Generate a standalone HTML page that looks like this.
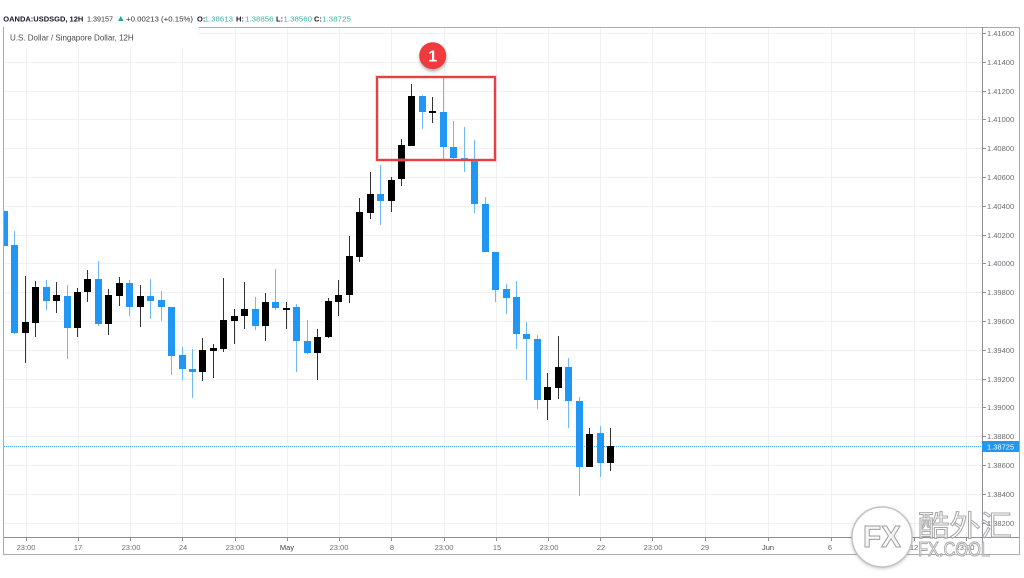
<!DOCTYPE html>
<html><head><meta charset="utf-8"><style>
html,body{margin:0;padding:0;background:#fff;overflow:hidden}
svg{display:block}
text{font-family:"Liberation Sans",sans-serif}
</style></head><body>
<svg width="1024" height="578" viewBox="0 0 1024 578" xmlns="http://www.w3.org/2000/svg">
<defs>
<clipPath id="plot"><rect x="4" y="27" width="978" height="510"/></clipPath>
<clipPath id="leg"><rect x="0" y="27" width="134" height="20"/></clipPath>
<filter id="sh" x="-50%" y="-50%" width="200%" height="200%"><feGaussianBlur stdDeviation="1.5"/></filter>
</defs>
<rect width="1024" height="578" fill="#fff"/>

<!-- horizontal grid -->
<g stroke="#eef0f3" stroke-width="1">
<line x1="4" x2="982" y1="33.5" y2="33.5"/><line x1="4" x2="982" y1="62.5" y2="62.5"/><line x1="4" x2="982" y1="91.5" y2="91.5"/><line x1="4" x2="982" y1="119.5" y2="119.5"/><line x1="4" x2="982" y1="148.5" y2="148.5"/><line x1="4" x2="982" y1="177.5" y2="177.5"/><line x1="4" x2="982" y1="206.5" y2="206.5"/><line x1="4" x2="982" y1="235.5" y2="235.5"/><line x1="4" x2="982" y1="263.5" y2="263.5"/><line x1="4" x2="982" y1="292.5" y2="292.5"/><line x1="4" x2="982" y1="321.5" y2="321.5"/><line x1="4" x2="982" y1="350.5" y2="350.5"/><line x1="4" x2="982" y1="379.5" y2="379.5"/><line x1="4" x2="982" y1="407.5" y2="407.5"/><line x1="4" x2="982" y1="436.5" y2="436.5"/><line x1="4" x2="982" y1="465.5" y2="465.5"/><line x1="4" x2="982" y1="494.5" y2="494.5"/><line x1="4" x2="982" y1="523.5" y2="523.5"/>
</g>
<!-- vertical grid -->
<g stroke="#eef0f3" stroke-width="1">
<line x1="26.5" x2="26.5" y1="27" y2="537"/><line x1="78.5" x2="78.5" y1="27" y2="537"/><line x1="130.5" x2="130.5" y1="27" y2="537"/><line x1="182.5" x2="182.5" y1="27" y2="537"/><line x1="235.5" x2="235.5" y1="27" y2="537"/><line x1="287.5" x2="287.5" y1="27" y2="537"/><line x1="339.5" x2="339.5" y1="27" y2="537"/><line x1="391.5" x2="391.5" y1="27" y2="537"/><line x1="444.5" x2="444.5" y1="27" y2="537"/><line x1="496.5" x2="496.5" y1="27" y2="537"/><line x1="548.5" x2="548.5" y1="27" y2="537"/><line x1="600.5" x2="600.5" y1="27" y2="537"/><line x1="652.5" x2="652.5" y1="27" y2="537"/><line x1="705.5" x2="705.5" y1="27" y2="537"/><line x1="768.5" x2="768.5" y1="27" y2="537"/><line x1="831.5" x2="831.5" y1="27" y2="537"/><line x1="914.5" x2="914.5" y1="27" y2="537"/><line x1="966.5" x2="966.5" y1="27" y2="537"/>
</g>

<!-- legend box -->
<rect x="4.5" y="20" width="194.5" height="28" fill="#fff"/>
<text x="10" y="40.5" font-size="8" fill="#4a4a4a" clip-path="url(#leg)">U.S. Dollar / Singapore Dollar, 12H</text>

<!-- price line -->
<line x1="4" x2="982" y1="446.5" y2="446.5" stroke="#2196f3" stroke-width="1" stroke-dasharray="1 1" opacity="0.8"/>

<!-- candles -->
<g clip-path="url(#plot)">
<g fill="#6fb9f6">
<rect x="14" y="231" width="1" height="103"/><rect x="46" y="280" width="1" height="30"/><rect x="67" y="285" width="1" height="74"/><rect x="98" y="261" width="1" height="65"/><rect x="129" y="280" width="1" height="36"/><rect x="150" y="279" width="1" height="40"/><rect x="161" y="291" width="1" height="30"/><rect x="171" y="307" width="1" height="68"/><rect x="182" y="347" width="1" height="33"/><rect x="192" y="349" width="1" height="49"/><rect x="255" y="297" width="1" height="33"/><rect x="275" y="269" width="1" height="41"/><rect x="296" y="304" width="1" height="68"/><rect x="307" y="320" width="1" height="34"/><rect x="380" y="165" width="1" height="60"/><rect x="422" y="95" width="1" height="34"/><rect x="443" y="78" width="1" height="81"/><rect x="453" y="121" width="1" height="38"/><rect x="464" y="127" width="1" height="45"/><rect x="474" y="140" width="1" height="73"/><rect x="485" y="197" width="1" height="55"/><rect x="495" y="252" width="1" height="50"/><rect x="506" y="284" width="1" height="30"/><rect x="516" y="281" width="1" height="68"/><rect x="526" y="322" width="1" height="58"/><rect x="537" y="335" width="1" height="74"/><rect x="568" y="358" width="1" height="70"/><rect x="579" y="397" width="1" height="99"/><rect x="600" y="426" width="1" height="51"/>
</g>
<g fill="#333">
<rect x="25" y="276" width="1" height="87"/><rect x="35" y="281" width="1" height="56"/><rect x="56" y="282" width="1" height="31"/><rect x="77" y="288" width="1" height="49"/><rect x="87" y="270" width="1" height="32"/><rect x="108" y="289" width="1" height="46"/><rect x="119" y="277" width="1" height="29"/><rect x="140" y="285" width="1" height="42"/><rect x="202" y="338" width="1" height="43"/><rect x="213" y="344" width="1" height="34"/><rect x="223" y="278" width="1" height="74"/><rect x="234" y="309" width="1" height="35"/><rect x="244" y="282" width="1" height="47"/><rect x="265" y="293" width="1" height="48"/><rect x="286" y="302" width="1" height="27"/><rect x="317" y="329" width="1" height="51"/><rect x="328" y="298" width="1" height="40"/><rect x="338" y="280" width="1" height="36"/><rect x="349" y="236" width="1" height="67"/><rect x="359" y="198" width="1" height="64"/><rect x="370" y="172" width="1" height="47"/><rect x="391" y="177" width="1" height="35"/><rect x="401" y="139" width="1" height="47"/><rect x="411" y="84" width="1" height="62"/><rect x="432" y="97" width="1" height="26"/><rect x="547" y="373" width="1" height="47"/><rect x="558" y="336" width="1" height="63"/><rect x="589" y="428" width="1" height="39"/><rect x="610" y="428" width="1" height="43"/>
</g>
<g fill="#2196f3">
<rect x="4" y="211" width="4" height="35"/><rect x="11" y="245" width="7" height="88"/><rect x="43" y="287" width="7" height="14"/><rect x="64" y="296" width="7" height="32"/><rect x="95" y="279" width="7" height="45"/><rect x="126" y="283" width="7" height="24"/><rect x="147" y="296" width="7" height="5"/><rect x="158" y="300" width="7" height="7"/><rect x="168" y="307" width="7" height="49"/><rect x="179" y="355" width="7" height="14"/><rect x="189" y="369" width="7" height="3"/><rect x="252" y="309" width="7" height="17"/><rect x="272" y="302" width="7" height="6"/><rect x="293" y="307" width="7" height="34"/><rect x="304" y="341" width="7" height="12"/><rect x="377" y="194" width="7" height="7"/><rect x="419" y="96" width="7" height="16"/><rect x="440" y="112" width="7" height="35"/><rect x="450" y="147" width="7" height="11"/><rect x="461" y="158" width="7" height="2"/><rect x="471" y="160" width="7" height="44"/><rect x="482" y="204" width="7" height="48"/><rect x="492" y="252" width="7" height="38"/><rect x="503" y="289" width="7" height="9"/><rect x="513" y="297" width="7" height="37"/><rect x="523" y="334" width="7" height="5"/><rect x="534" y="339" width="7" height="61"/><rect x="565" y="367" width="7" height="34"/><rect x="576" y="401" width="7" height="66"/><rect x="597" y="433" width="7" height="30"/>
</g>
<g fill="#000">
<rect x="22" y="322" width="7" height="11"/><rect x="32" y="287" width="7" height="36"/><rect x="53" y="295" width="7" height="6"/><rect x="74" y="292" width="7" height="36"/><rect x="84" y="279" width="7" height="13"/><rect x="105" y="295" width="7" height="29"/><rect x="116" y="283" width="7" height="13"/><rect x="137" y="296" width="7" height="11"/><rect x="199" y="350" width="7" height="22"/><rect x="210" y="348" width="7" height="3"/><rect x="220" y="320" width="7" height="29"/><rect x="231" y="316" width="7" height="5"/><rect x="241" y="309" width="7" height="7"/><rect x="262" y="302" width="7" height="24"/><rect x="283" y="308" width="7" height="2"/><rect x="314" y="337" width="7" height="16"/><rect x="325" y="301" width="7" height="36"/><rect x="335" y="295" width="7" height="7"/><rect x="346" y="256" width="7" height="39"/><rect x="356" y="212" width="7" height="45"/><rect x="367" y="194" width="7" height="19"/><rect x="388" y="180" width="7" height="21"/><rect x="398" y="145" width="7" height="34"/><rect x="408" y="96" width="7" height="50"/><rect x="429" y="111" width="7" height="2"/><rect x="544" y="387" width="7" height="13"/><rect x="555" y="367" width="7" height="21"/><rect x="586" y="434" width="7" height="33"/><rect x="607" y="446" width="7" height="17"/>
</g>
</g>

<!-- annotation -->
<rect x="377" y="77" width="118" height="83" fill="none" stroke="#f28b8b" stroke-width="4" opacity="0.35"/>
<rect x="377" y="77" width="118" height="83" fill="none" stroke="#e8403f" stroke-width="2"/>
<circle cx="433" cy="58" r="13.5" fill="#000" opacity="0.3" filter="url(#sh)"/>
<circle cx="432.7" cy="55.7" r="13.5" fill="#f03a3d"/>
<text x="432.7" y="61.5" font-size="16" font-weight="bold" fill="#fff" text-anchor="middle">1</text>

<!-- frame -->
<g stroke="#a9abb0" stroke-width="1" fill="none">
<line x1="199" x2="1019.5" y1="27.5" y2="27.5"/>
<line x1="3.5" x2="3.5" y1="27" y2="555"/>
<line x1="1019.5" x2="1019.5" y1="27" y2="555"/>
<line x1="3" x2="1020" y1="554.5" y2="554.5"/>
</g>
<g stroke="#8d8f94" stroke-width="1">
<line x1="982.5" x2="982.5" y1="27" y2="555"/>
<line x1="4" x2="1019" y1="537.5" y2="537.5"/>
</g>

<!-- y axis ticks & labels -->
<g stroke="#8d8f94" stroke-width="1">
<line x1="982" x2="986" y1="33.5" y2="33.5"/><line x1="982" x2="986" y1="62.5" y2="62.5"/><line x1="982" x2="986" y1="91.5" y2="91.5"/><line x1="982" x2="986" y1="119.5" y2="119.5"/><line x1="982" x2="986" y1="148.5" y2="148.5"/><line x1="982" x2="986" y1="177.5" y2="177.5"/><line x1="982" x2="986" y1="206.5" y2="206.5"/><line x1="982" x2="986" y1="235.5" y2="235.5"/><line x1="982" x2="986" y1="263.5" y2="263.5"/><line x1="982" x2="986" y1="292.5" y2="292.5"/><line x1="982" x2="986" y1="321.5" y2="321.5"/><line x1="982" x2="986" y1="350.5" y2="350.5"/><line x1="982" x2="986" y1="379.5" y2="379.5"/><line x1="982" x2="986" y1="407.5" y2="407.5"/><line x1="982" x2="986" y1="436.5" y2="436.5"/><line x1="982" x2="986" y1="465.5" y2="465.5"/><line x1="982" x2="986" y1="494.5" y2="494.5"/><line x1="982" x2="986" y1="523.5" y2="523.5"/>
</g>
<g font-size="7.5" fill="#6b6d72">
<text x="987" y="36.2">1.41600</text><text x="987" y="65.2">1.41400</text><text x="987" y="94.2">1.41200</text><text x="987" y="122.2">1.41000</text><text x="987" y="151.2">1.40800</text><text x="987" y="180.2">1.40600</text><text x="987" y="209.2">1.40400</text><text x="987" y="238.2">1.40200</text><text x="987" y="266.2">1.40000</text><text x="987" y="295.2">1.39800</text><text x="987" y="324.2">1.39600</text><text x="987" y="353.2">1.39400</text><text x="987" y="382.2">1.39200</text><text x="987" y="410.2">1.39000</text><text x="987" y="439.2">1.38800</text><text x="987" y="468.2">1.38600</text><text x="987" y="497.2">1.38400</text><text x="987" y="526.2">1.38200</text>
</g>
<rect x="982" y="441" width="37" height="11" fill="#2196f3"/>
<text x="987" y="449.3" font-size="7.5" fill="#fff">1.38725</text>

<!-- x axis ticks & labels -->
<g stroke="#8d8f94" stroke-width="1">
<line x1="26.5" x2="26.5" y1="537" y2="541"/><line x1="78.5" x2="78.5" y1="537" y2="541"/><line x1="130.5" x2="130.5" y1="537" y2="541"/><line x1="182.5" x2="182.5" y1="537" y2="541"/><line x1="235.5" x2="235.5" y1="537" y2="541"/><line x1="287.5" x2="287.5" y1="537" y2="541"/><line x1="339.5" x2="339.5" y1="537" y2="541"/><line x1="391.5" x2="391.5" y1="537" y2="541"/><line x1="444.5" x2="444.5" y1="537" y2="541"/><line x1="496.5" x2="496.5" y1="537" y2="541"/><line x1="548.5" x2="548.5" y1="537" y2="541"/><line x1="600.5" x2="600.5" y1="537" y2="541"/><line x1="652.5" x2="652.5" y1="537" y2="541"/><line x1="705.5" x2="705.5" y1="537" y2="541"/><line x1="768.5" x2="768.5" y1="537" y2="541"/><line x1="831.5" x2="831.5" y1="537" y2="541"/><line x1="914.5" x2="914.5" y1="537" y2="541"/><line x1="966.5" x2="966.5" y1="537" y2="541"/>
</g>
<g font-size="7.5" fill="#6b6d72" text-anchor="middle">
<text x="26" y="550">23:00</text><text x="78" y="550">17</text><text x="131" y="550">23:00</text><text x="183" y="550">24</text><text x="235" y="550">23:00</text><text x="287" y="550" fill="#444">May</text><text x="339" y="550">23:00</text><text x="392" y="550">8</text><text x="444" y="550">23:00</text><text x="497" y="550">15</text><text x="549" y="550">23:00</text><text x="601" y="550">22</text><text x="653" y="550">23:00</text><text x="705" y="550">29</text><text x="768" y="550" fill="#444">Jun</text><text x="830" y="550">6</text><text x="914" y="550">12</text><text x="965" y="550">23:00</text>
</g>

<!-- header -->
<text x="3.3" y="21.3" font-size="7.5" font-weight="bold" fill="#131722" textLength="80" lengthAdjust="spacingAndGlyphs">OANDA:USDSGD, 12H</text>
<text x="87" y="21.3" font-size="7.5" fill="#333" textLength="26" lengthAdjust="spacingAndGlyphs">1.39157</text>
<polygon points="118,21 123.6,21 120.8,16" fill="#26a69a"/>
<text x="126" y="21.3" font-size="7.5" fill="#333" textLength="67" lengthAdjust="spacingAndGlyphs">+0.00213 (+0.15%)</text>
<g font-size="7.5">
<text x="197" y="21.3" font-weight="bold" fill="#131722">O:</text><text x="204.5" y="21.3" fill="#3bb3a3" textLength="28.5" lengthAdjust="spacingAndGlyphs">1.38613</text>
<text x="236" y="21.3" font-weight="bold" fill="#131722">H:</text><text x="245" y="21.3" fill="#3bb3a3" textLength="28.5" lengthAdjust="spacingAndGlyphs">1.38856</text>
<text x="276" y="21.3" font-weight="bold" fill="#131722">L:</text><text x="283.5" y="21.3" fill="#3bb3a3" textLength="28.5" lengthAdjust="spacingAndGlyphs">1.38560</text>
<text x="314" y="21.3" font-weight="bold" fill="#131722">C:</text><text x="322" y="21.3" fill="#3bb3a3" textLength="29" lengthAdjust="spacingAndGlyphs">1.38725</text>
</g>

<!-- watermark -->
<circle cx="882" cy="538" r="31" fill="#000" opacity="0.18" filter="url(#sh)"/>
<circle cx="882" cy="537" r="30" fill="#fff" stroke="#c4c4c4" stroke-width="1.5"/>
<text x="863" y="547" font-size="31" font-weight="bold" fill="#f7f7f7" stroke="#9e9e9e" stroke-width="1" textLength="38" lengthAdjust="spacingAndGlyphs">FX</text>
<text x="918" y="536" font-size="29" fill="#ffffff" fill-opacity="0.85" stroke="#a8a8a8" stroke-width="1" textLength="94" lengthAdjust="spacingAndGlyphs" style="font-family:'Liberation Sans','Noto Sans CJK SC',sans-serif">酷外汇</text>
<text x="918" y="556" font-size="20" fill="#ffffff" fill-opacity="0.7" stroke="#a8a8a8" stroke-width="1" textLength="72" lengthAdjust="spacingAndGlyphs">FX.COOL</text>
</svg>
</body></html>
